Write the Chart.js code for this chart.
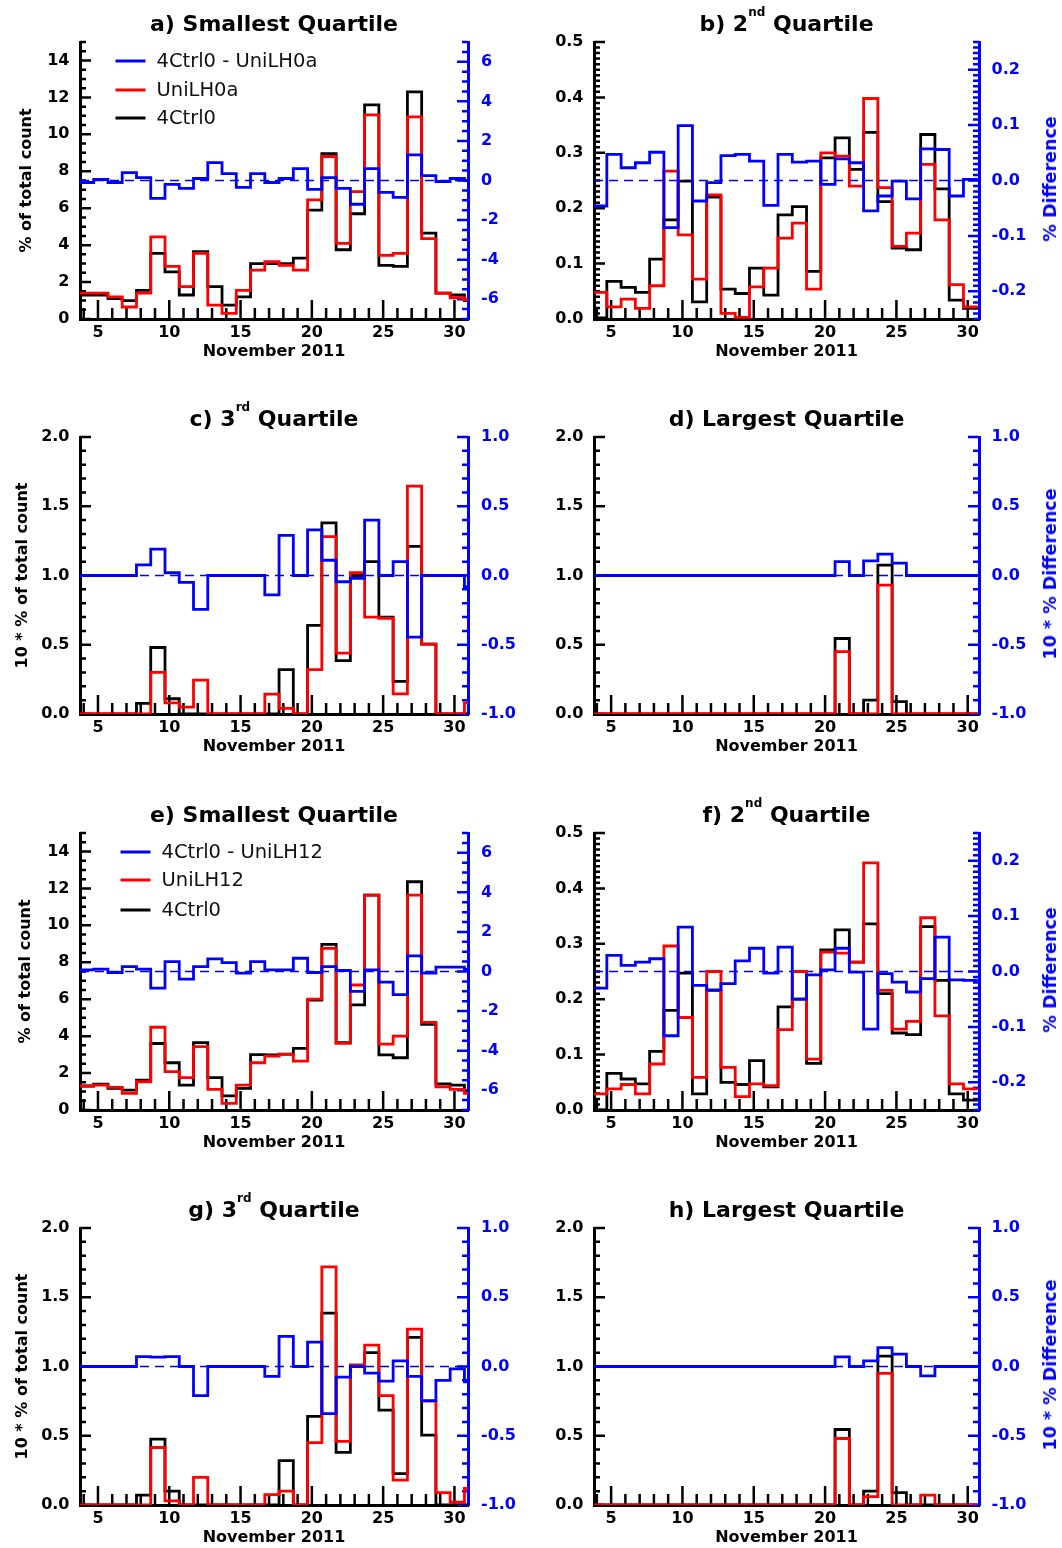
<!DOCTYPE html>
<html>
<head>
<meta charset="utf-8">
<title>Quartile histograms, November 2011</title>
<script src="https://cdn.jsdelivr.net/npm/chart.js@4.4.1/dist/chart.umd.min.js"></script>
<style>
  html, body { margin: 0; padding: 0; background: #fff; }
  #page { position: relative; width: 1062px; height: 1548px; overflow: hidden; background: #fff; }
  #page canvas { position: absolute; }
  .ttl { position: absolute; text-align: center; font-family: "DejaVu Sans"; font-weight: bold;
         font-size: 22px; line-height: 26px; white-space: nowrap; color: #000; }
  .ttl sup { font-size: 12px; vertical-align: baseline; position: relative; top: -15.5px; }
  .rtitle { position: absolute; transform: translate(-50%, -50%) rotate(-90deg); white-space: nowrap;
            font-family: "DejaVu Sans"; font-weight: bold; font-size: 17.5px; line-height: 20px; color: #0000ff; }
</style>
</head>
<body>
<div id="page"></div>
<script>
// day of November for each daily bin
const DAYS = [4, 5, 6, 7, 8, 9, 10, 11, 12, 13, 14, 15, 16, 17, 18, 19, 20, 21, 22, 23, 24, 25, 26, 27, 28, 29, 30, 31];
const X_TICKS = [5, 10, 15, 20, 25, 30];

const Y_TICKS_SMALL = [0, 2, 4, 6, 8, 10, 12, 14];
const R_TICKS_SMALL = [-6, -4, -2, 0, 2, 4, 6];
const Y_TICKS_Q2 = [0, 0.1, 0.2, 0.3, 0.4, 0.5];
const R_TICKS_Q2 = [-0.2, -0.1, 0, 0.1, 0.2];
const Y_TICKS_Q34 = [0, 0.5, 1, 1.5, 2];
const R_TICKS_Q34 = [-1, -0.5, 0, 0.5, 1];

// a) smallest quartile, UniLH0a
const A_CTRL = [1.3, 1.3, 1.1, 1.0, 1.55, 3.55, 2.55, 1.3, 3.65, 1.75, 0.75, 1.2, 3.0, 3.0, 3.0, 3.3, 5.9, 8.95, 3.75, 5.7, 11.6, 2.9, 2.85, 12.3, 4.65, 1.4, 1.3, 1.0];
const A_UNI = [1.4, 1.4, 1.2, 0.65, 1.4, 4.45, 2.85, 1.75, 3.55, 0.75, 0.3, 1.55, 2.65, 3.1, 2.9, 2.65, 6.45, 8.8, 4.1, 6.9, 11.05, 3.45, 3.55, 10.95, 4.35, 1.4, 1.15, 1.05];
const A_DIFF = [-0.1, 0.05, -0.1, 0.4, 0.15, -0.9, -0.2, -0.4, 0.1, 0.9, 0.35, -0.35, 0.35, -0.1, 0.1, 0.6, -0.45, 0.15, -0.4, -1.2, 0.6, -0.6, -0.85, 1.3, 0.25, -0.05, 0.1, 0.0];

// b) 2nd quartile, UniLH0a
const B_CTRL = [0.002, 0.068, 0.057, 0.048, 0.108, 0.179, 0.249, 0.031, 0.22, 0.054, 0.046, 0.092, 0.043, 0.188, 0.203, 0.086, 0.291, 0.327, 0.27, 0.337, 0.212, 0.128, 0.125, 0.333, 0.235, 0.034, 0.019];
const B_UNI = [0.048, 0.022, 0.036, 0.019, 0.06, 0.267, 0.152, 0.072, 0.224, 0.01, 0.003, 0.058, 0.092, 0.146, 0.173, 0.054, 0.3, 0.294, 0.24, 0.398, 0.237, 0.131, 0.155, 0.279, 0.179, 0.062, 0.022];
const B_DIFF = [-0.046, 0.047, 0.023, 0.032, 0.051, -0.085, 0.099, -0.037, -0.004, 0.045, 0.047, 0.035, -0.045, 0.047, 0.033, 0.035, -0.007, 0.039, 0.032, -0.055, -0.028, -0.001, -0.033, 0.057, 0.056, -0.028, 0.002];

// c) 3rd quartile, UniLH0a (10 * %)
const C_CTRL = [0, 0, 0, 0, 0.077, 0.48, 0.11, 0, 0, 0, 0, 0, 0, 0, 0.32, 0, 0.64, 1.38, 0.385, 1.0, 1.1, 0.7, 0.235, 1.21, 0.505, 0, 0, 0];
const C_UNI = [0, 0, 0, 0, 0, 0.3, 0.08, 0.05, 0.245, 0, 0, 0, 0, 0.144, 0.04, 0, 0.32, 1.28, 0.44, 1.02, 0.7, 0.69, 0.145, 1.645, 0.505, 0, 0, 0.08];
const C_DIFF = [0, 0, 0, 0, 0.077, 0.19, 0.02, -0.05, -0.245, 0, 0, 0, 0, -0.14, 0.29, 0, 0.33, 0.11, -0.045, -0.02, 0.4, 0, 0.1, -0.445, 0, 0, 0, -0.08];

// d) largest quartile, UniLH0a (10 * %)
const D_CTRL = [0, 0, 0, 0, 0, 0, 0, 0, 0, 0, 0, 0, 0, 0, 0, 0, 0, 0.545, 0, 0.1, 1.075, 0.09, 0, 0, 0, 0, 0];
const D_UNI = [0, 0, 0, 0, 0, 0, 0, 0, 0, 0, 0, 0, 0, 0, 0, 0, 0, 0.45, 0, 0, 0.93, 0, 0, 0, 0, 0, 0];
const D_DIFF = [0, 0, 0, 0, 0, 0, 0, 0, 0, 0, 0, 0, 0, 0, 0, 0, 0, 0.1, 0, 0.105, 0.155, 0.09, 0, 0, 0, 0, 0];

// e) smallest quartile, UniLH12
const E_CTRL = [1.3, 1.4, 1.17, 1.08, 1.62, 3.6, 2.56, 1.35, 3.65, 1.75, 0.76, 1.17, 3.0, 2.98, 3.03, 3.34, 5.95, 8.97, 3.65, 5.69, 11.64, 2.98, 2.83, 12.36, 4.64, 1.41, 1.35, 1.0];
const E_UNI = [1.3, 1.35, 1.23, 0.9, 1.53, 4.48, 2.08, 1.75, 3.43, 1.12, 0.36, 1.35, 2.56, 2.92, 3.01, 2.65, 6.0, 8.75, 3.61, 6.77, 11.64, 3.57, 4.0, 11.64, 4.75, 1.26, 1.12, 0.9];
const E_DIFF = [0.08, 0.12, -0.05, 0.25, 0.12, -0.84, 0.5, -0.39, 0.25, 0.64, 0.45, -0.08, 0.5, 0.08, 0.08, 0.67, -0.05, 0.25, 0.05, -1.0, 0.08, -0.54, -1.17, 0.79, -0.08, 0.22, 0.22, 0.1];

// f) 2nd quartile, UniLH12
const F_CTRL = [0.0, 0.066, 0.056, 0.047, 0.106, 0.18, 0.247, 0.029, 0.216, 0.05, 0.046, 0.089, 0.042, 0.186, 0.2, 0.084, 0.289, 0.325, 0.267, 0.336, 0.21, 0.139, 0.136, 0.331, 0.234, 0.029, 0.018];
const F_UNI = [0.029, 0.038, 0.046, 0.029, 0.083, 0.296, 0.167, 0.059, 0.25, 0.077, 0.024, 0.047, 0.044, 0.145, 0.25, 0.092, 0.285, 0.283, 0.267, 0.446, 0.216, 0.146, 0.16, 0.347, 0.17, 0.047, 0.038];
const F_DIFF = [-0.03, 0.029, 0.011, 0.017, 0.023, -0.116, 0.08, -0.025, -0.033, -0.022, 0.019, 0.042, -0.003, 0.044, -0.05, -0.006, 0.003, 0.042, -0.001, -0.104, -0.004, -0.019, -0.037, -0.013, 0.062, -0.015, -0.016];

// g) 3rd quartile, UniLH12 (10 * %)
const G_CTRL = [0, 0, 0, 0, 0.072, 0.475, 0.1, 0, 0, 0, 0, 0, 0, 0, 0.32, 0, 0.64, 1.385, 0.38, 1.01, 1.1, 0.685, 0.227, 1.21, 0.505, 0, 0, 0];
const G_UNI = [0, 0, 0, 0, 0, 0.415, 0.03, 0, 0.2, 0, 0, 0, 0, 0.075, 0.1, 0, 0.45, 1.72, 0.46, 1.01, 1.155, 0.79, 0.18, 1.27, 0.75, 0.09, 0.02, 0.12];
const G_DIFF = [0, 0, 0, 0, 0.072, 0.068, 0.072, 0, -0.21, 0, 0, 0, 0, -0.072, 0.217, 0, 0.176, -0.34, -0.077, 0, -0.048, -0.106, 0.04, -0.072, -0.246, -0.1, -0.017, -0.11];

// h) largest quartile, UniLH12 (10 * %)
const H_CTRL = [0, 0, 0, 0, 0, 0, 0, 0, 0, 0, 0, 0, 0, 0, 0, 0, 0, 0.545, 0, 0.1, 1.075, 0.09, 0, 0, 0, 0, 0];
const H_UNI = [0, 0, 0, 0, 0, 0, 0, 0, 0, 0, 0, 0, 0, 0, 0, 0, 0, 0.48, 0, 0.06, 0.95, 0, 0, 0.072, 0, 0, 0];
const H_DIFF = [0, 0, 0, 0, 0, 0, 0, 0, 0, 0, 0, 0, 0, 0, 0, 0, 0, 0.07, 0, 0.04, 0.137, 0.089, 0, -0.067, 0, 0, 0];

const BLUE = '#0000ff', RED = '#ff0000', BLACK = '#000000';
const FONT = 'DejaVu Sans';

// page layout
const COLS = [
  { canvasLeft: 0, plotLeft: 80, plotRight: 468, xMin: 3.74, xMax: 30.95, rPad: 13 },
  { canvasLeft: 531, plotLeft: 594, plotRight: 979, xMin: 3.8, xMax: 30.79, rPad: 12.5 }
];
const ROW_TOPS = [42, 437, 833, 1228];
const PLOT_H = 277, CANVAS_W = 531, CANVAS_H = 380, TOP_PAD = 42;

const KINDS = {
  small: { yMax: 15, yTicks: Y_TICKS_SMALL, yMinor: 0.5, rMin: -7, rMax: 7, rTicks: R_TICKS_SMALL, rMinor: 0.5, dec: 0 },
  q2: { yMax: 0.5, yTicks: Y_TICKS_Q2, yMinor: 0.01, rMin: -0.25, rMax: 0.25, rTicks: R_TICKS_Q2, rMinor: 0.01, dec: 1 },
  q34: { yMax: 2, yTicks: Y_TICKS_Q34, yMinor: 0.1, rMin: -1, rMax: 1, rTicks: R_TICKS_Q34, rMinor: 0.1, dec: 1 }
};

const PANELS = [
  { title: 'a) Smallest Quartile', row: 0, col: 0, kind: 'small', run: 'UniLH0a', ctrl: A_CTRL, uni: A_UNI, diff: A_DIFF,
    yTitle: '% of total count', yTitlePad: 17.5, legend: { dx: 35.5, rows: [19, 48, 76] } },
  { title: 'b) 2<sup>nd</sup> Quartile', row: 0, col: 1, kind: 'q2', run: 'UniLH0a', ctrl: B_CTRL, uni: B_UNI, diff: B_DIFF,
    rTitle: '% Difference' },
  { title: 'c) 3<sup>rd</sup> Quartile', row: 1, col: 0, kind: 'q34', run: 'UniLH0a', ctrl: C_CTRL, uni: C_UNI, diff: C_DIFF,
    yTitle: '10 * % of total count', yTitlePad: 13.3 },
  { title: 'd) Largest Quartile', row: 1, col: 1, kind: 'q34', run: 'UniLH0a', ctrl: D_CTRL, uni: D_UNI, diff: D_DIFF,
    rTitle: '10 * % Difference' },
  { title: 'e) Smallest Quartile', row: 2, col: 0, kind: 'small', run: 'UniLH12', ctrl: E_CTRL, uni: E_UNI, diff: E_DIFF,
    yTitle: '% of total count', yTitlePad: 16.7, legend: { dx: 40.5, rows: [19, 47, 77] } },
  { title: 'f) 2<sup>nd</sup> Quartile', row: 2, col: 1, kind: 'q2', run: 'UniLH12', ctrl: F_CTRL, uni: F_UNI, diff: F_DIFF,
    rTitle: '% Difference' },
  { title: 'g) 3<sup>rd</sup> Quartile', row: 3, col: 0, kind: 'q34', run: 'UniLH12', ctrl: G_CTRL, uni: G_UNI, diff: G_DIFF,
    yTitle: '10 * % of total count', yTitlePad: 13.3 },
  { title: 'h) Largest Quartile', row: 3, col: 1, kind: 'q34', run: 'UniLH12', ctrl: H_CTRL, uni: H_UNI, diff: H_DIFF,
    rTitle: '10 * % Difference' }
];

// histogram bins run from 0.3 day before to 0.7 day after the day number
function steps(vals) {
  const pts = vals.map((v, i) => ({ x: DAYS[i] - 0.3, y: v }));
  pts.push({ x: DAYS[vals.length - 1] + 0.7, y: vals[vals.length - 1] });
  return pts;
}

// IDL style ticks pointing into the plot
const innerTicks = {
  id: 'innerTicks',
  beforeDatasetsDraw(chart, args, opts) {
    const { ctx, chartArea: a, scales } = chart;
    ctx.save();
    ctx.lineWidth = 2.5;
    ctx.lineCap = 'butt';
    ctx.strokeStyle = BLACK;
    ctx.beginPath();
    for (let d = Math.ceil(scales.x.min); d <= scales.x.max; d++) {
      const px = scales.x.getPixelForValue(d);
      const len = X_TICKS.includes(d) ? 19 : 11;
      ctx.moveTo(px, a.bottom);
      ctx.lineTo(px, a.bottom - len);
    }
    ctx.stroke();

    function yTicks(scale, edge, dir, color, step) {
      const majors = scale.ticks.map(t => t.value);
      ctx.strokeStyle = color;
      ctx.beginPath();
      for (let k = Math.ceil(scale.min / step - 1e-6); k * step <= scale.max + 1e-9; k++) {
        const v = Math.round(k * step * 1e6) / 1e6;
        const major = majors.some(m => Math.abs(m - v) < step / 2);
        const py = scale.getPixelForValue(v);
        ctx.moveTo(edge, py);
        ctx.lineTo(edge + dir * (major ? 11 : 6), py);
      }
      ctx.stroke();
    }
    yTicks(scales.y, a.left, 1, BLACK, opts.yMinor);
    yTicks(scales.y1, a.right, -1, BLUE, opts.rMinor);
    ctx.restore();
  }
};

// legend drawn inside the plot, top left
const insideLegend = {
  id: 'insideLegend',
  afterDatasetsDraw(chart, args, opts) {
    if (!opts.show) return;
    const { ctx, chartArea: a } = chart;
    ctx.save();
    ctx.font = '19.5px "' + FONT + '"';
    ctx.textBaseline = 'middle';
    ctx.textAlign = 'left';
    chart.data.datasets.slice(0, 3).forEach((ds, i) => {
      const y = a.top + opts.rows[i];
      ctx.strokeStyle = ds.borderColor;
      ctx.lineWidth = 3;
      ctx.beginPath();
      ctx.moveTo(a.left + opts.dx, y);
      ctx.lineTo(a.left + opts.dx + 30, y);
      ctx.stroke();
      ctx.fillStyle = '#111';
      ctx.fillText(ds.label, a.left + opts.dx + 41, y + 1);
    });
    ctx.restore();
  }
};

const page = document.getElementById('page');

PANELS.forEach(p => {
  const col = COLS[p.col];
  const k = KINDS[p.kind];
  const plotTop = ROW_TOPS[p.row];
  const top = plotTop - TOP_PAD;

  const canvas = document.createElement('canvas');
  canvas.width = CANVAS_W;
  canvas.height = CANVAS_H;
  canvas.style.left = col.canvasLeft + 'px';
  canvas.style.top = top + 'px';
  page.appendChild(canvas);

  const ttl = document.createElement('div');
  ttl.className = 'ttl';
  ttl.innerHTML = p.title;
  ttl.style.left = col.plotLeft + 'px';
  ttl.style.width = (col.plotRight - col.plotLeft) + 'px';
  ttl.style.top = (plotTop - 31) + 'px';
  page.appendChild(ttl);

  if (p.rTitle) {
    const rt = document.createElement('div');
    rt.className = 'rtitle';
    rt.textContent = p.rTitle;
    rt.style.left = '1050px';
    rt.style.top = (plotTop + PLOT_H / 2 - 2) + 'px';
    page.appendChild(rt);
  }

  const tickFont = { family: FONT, weight: 'bold', size: 16 };
  const titleFont = { family: FONT, weight: 'bold', size: 16 };
  const lineStyle = { pointRadius: 0, borderWidth: 2.8, stepped: true, fill: false,
                      borderJoinStyle: 'miter', borderCapStyle: 'butt' };

  new Chart(canvas, {
    type: 'line',
    data: {
      datasets: [
        Object.assign({ label: '4Ctrl0 - ' + p.run, data: steps(p.diff), yAxisID: 'y1', borderColor: BLUE }, lineStyle),
        Object.assign({ label: p.run, data: steps(p.uni), yAxisID: 'y', borderColor: RED }, lineStyle),
        Object.assign({ label: '4Ctrl0', data: steps(p.ctrl), yAxisID: 'y', borderColor: BLACK }, lineStyle),
        { label: 'zero', data: [{ x: col.xMin, y: 0 }, { x: col.xMax, y: 0 }], yAxisID: 'y1',
          borderColor: BLUE, borderWidth: 1.5, borderDash: [9, 6], pointRadius: 0, fill: false }
      ]
    },
    options: {
      responsive: false,
      animation: false,
      devicePixelRatio: 1,
      layout: { padding: { top: TOP_PAD, left: 0, right: 0, bottom: 0 } },
      plugins: {
        legend: { display: false },
        tooltip: { enabled: false },
        innerTicks: { yMinor: k.yMinor, rMinor: k.rMinor },
        insideLegend: p.legend ? Object.assign({ show: true }, p.legend) : { show: false }
      },
      scales: {
        x: {
          type: 'linear', position: 'bottom', min: col.xMin, max: col.xMax,
          grid: { display: false, drawTicks: false },
          border: { display: true, color: BLACK, width: 3 },
          afterBuildTicks: s => { s.ticks = X_TICKS.map(v => ({ value: v })); },
          afterFit: s => { s.height = CANVAS_H - TOP_PAD - PLOT_H; },
          ticks: { autoSkip: false, maxRotation: 0, padding: 4.5, color: BLACK, font: tickFont,
                   callback: v => String(v) },
          title: { display: true, text: 'November 2011', color: BLACK, font: titleFont,
                   padding: { top: 0, bottom: 19 } }
        },
        y: {
          type: 'linear', position: 'left', min: 0, max: k.yMax,
          grid: { display: false, drawTicks: false },
          border: { display: true, color: BLACK, width: 3 },
          afterBuildTicks: s => { s.ticks = k.yTicks.map(v => ({ value: v })); },
          afterFit: s => { s.width = col.plotLeft - col.canvasLeft; },
          ticks: { autoSkip: false, padding: 10.5, color: BLACK, font: tickFont,
                   callback: v => Number(v).toFixed(k.dec) },
          title: { display: !!p.yTitle, text: p.yTitle || '', color: BLACK, font: titleFont,
                   padding: { top: p.yTitlePad || 0, bottom: 0 } }
        },
        y1: {
          type: 'linear', position: 'right', min: k.rMin, max: k.rMax,
          grid: { display: false, drawTicks: false },
          border: { display: true, color: BLUE, width: 3 },
          afterBuildTicks: s => { s.ticks = k.rTicks.map(v => ({ value: v })); },
          afterFit: s => { s.width = col.canvasLeft + CANVAS_W - col.plotRight; },
          ticks: { autoSkip: false, padding: col.rPad, color: BLUE, font: tickFont,
                   callback: v => Number(v).toFixed(k.dec) }
        }
      }
    },
    plugins: [innerTicks, insideLegend]
  });
});
</script>
</body>
</html>
